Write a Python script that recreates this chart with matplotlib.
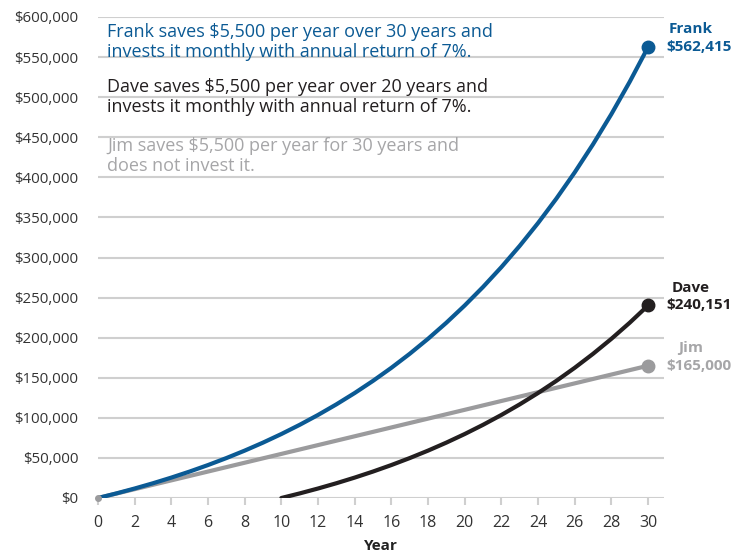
import matplotlib
matplotlib.use("Agg")
import matplotlib.pyplot as plt

plt.rcParams['font.family'] = ['Open Sans', 'DejaVu Sans']

years = list(range(0, 31))
frank = [0, 5713, 11841, 18409, 25453, 33006, 41106, 49790, 59103, 69089,
         79797, 91278, 103590, 116792, 130948, 146127, 162405, 179858, 198574, 218642,
         240151, 263237, 287980, 314512, 342961, 373467, 406178, 441254, 478866, 519197,
         562415]
dave_years = list(range(10, 31))
dave = [0, 5713, 11841, 18409, 25453, 33006, 41106, 49790, 59103, 69089,
        79797, 91278, 103590, 116792, 130948, 146127, 162405, 179858, 198574, 218642,
        240151]
jim_years = [0, 30]
jim = [0, 165000]

blue = '#0b5a94'
dark = '#231f20'
gray = '#9b9b9d'
lgray = '#a6a6a8'

fig = plt.figure(figsize=(7.46, 5.52), dpi=100)
ax = fig.add_axes([98/746, 1-498/552, (664-98)/746, (498-17)/552])
ax.set_xlim(0, 30.87)
ax.set_ylim(0, 600000)

ax.plot(jim_years, jim, color=gray, lw=3, solid_capstyle='round', zorder=3)
ax.plot(dave_years, dave, color=dark, lw=3, solid_capstyle='round', zorder=4)
ax.plot(years, frank, color=blue, lw=3, solid_capstyle='round', zorder=5)
ax.plot([0], [0], 'o', color=gray, ms=4, zorder=6, clip_on=False)
ax.plot([30], [jim[-1]], 'o', color=gray, ms=9, zorder=6, clip_on=False)
ax.plot([30], [dave[-1]], 'o', color=dark, ms=9, zorder=6, clip_on=False)
ax.plot([30], [frank[-1]], 'o', color=blue, ms=9, zorder=6, clip_on=False)

ax.set_yticks(range(0, 600001, 50000))
ax.set_yticklabels(['$0'] + ['${:,}'.format(v) for v in range(50000, 600001, 50000)])
ax.set_xticks(range(0, 31, 2))
ax.yaxis.grid(True, color='#cfcfcf', lw=1.5)
ax.set_axisbelow(True)
for s in ax.spines.values():
    s.set_visible(False)
ax.tick_params(axis='y', length=0, labelsize=10.8, labelcolor='#333333', pad=14)
ax.tick_params(axis='x', length=5, width=1.5, color='#cfcfcf', labelsize=11.5,
               labelcolor='#333333', pad=7)
ax.set_xlabel('Year', fontsize=11, fontweight='bold', color='#222222', labelpad=6)

tx = 0.5
fs = 13
ls = 1.12
ax.text(tx, 592000, 'Frank saves $5,500 per year over 30 years and\ninvests it monthly with annual return of 7%.',
        color=blue, fontsize=fs, va='top', ha='left', linespacing=ls)
ax.text(tx, 524000, 'Dave saves $5,500 per year over 20 years and\ninvests it monthly with annual return of 7%.',
        color=dark, fontsize=fs, va='top', ha='left', linespacing=ls)
ax.text(tx, 450000, 'Jim saves $5,500 per year for 30 years and\ndoes not invest it.',
        color=lgray, fontsize=fs, va='top', ha='left', linespacing=ls)

def label(y, name, val, col, dy_name=22000):
    ax.text(32.3, y + dy_name, name, color=col, fontsize=11, fontweight='bold',
            ha='center', va='center', clip_on=False)
    ax.text(31.0, y, val, color=col, fontsize=11, fontweight='bold',
            ha='left', va='center', clip_on=False)

label(frank[-1], 'Frank', '$562,415', blue)
label(dave[-1], 'Dave', '$240,151', dark)
label(jim[-1], 'Jim', '$165,000', lgray)

fig.savefig('out.png', dpi=100)
